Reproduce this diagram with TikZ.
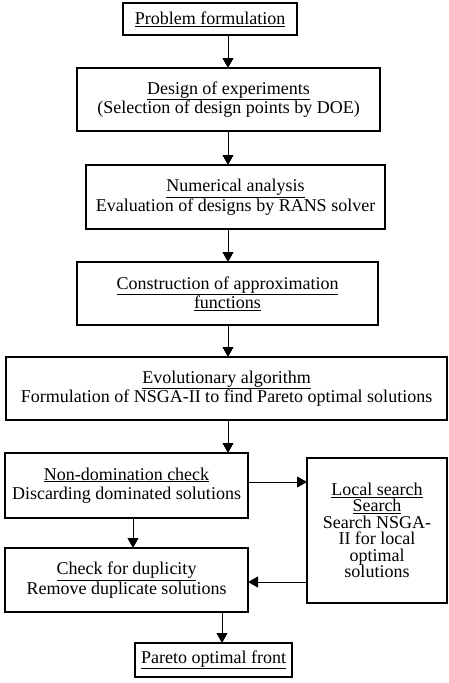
\documentclass[tikz,border=0pt]{standalone}
\usepackage{fontspec}
\setmainfont{Liberation Serif}
\usetikzlibrary{arrows.meta,positioning}

\begin{document}
\begin{tikzpicture}[
    x=1pt, y=-1pt,
    box/.style={rectangle, draw, line width=1.1pt, align=center, inner sep=0pt, outer sep=0pt, font=\fontsize{18}{19.5}\selectfont},
    link/.style={-{Triangle[length=10pt,width=11pt]}, line width=0.9pt}
]
    \useasboundingbox (0,0) rectangle (448,683);

    % Main chain of steps
    \node[box, minimum width=174pt, minimum height=32pt] (prob) at (210,19) {\underline{Problem formulation}};
    \node[box, minimum width=303pt, minimum height=63pt, below=33pt of prob, xshift=18.5pt] (design) {\underline{Design of experiments}\\(Selection of design points by DOE)};
    \node[box, minimum width=299pt, minimum height=64pt, below=34pt of design, xshift=7pt] (numer) {\underline{Numerical analysis}\\Evaluation of designs by RANS solver};
    \node[box, minimum width=301pt, minimum height=63pt, below=33pt of numer, xshift=-8pt] (constr) {\underline{Construction of approximation}\\\underline{functions}};
    \node[box, minimum width=441pt, minimum height=63pt, below=32pt of constr, xshift=-1pt] (evol) {\underline{Evolutionary algorithm}\\Formulation of NSGA-II to find Pareto optimal solutions};
    \node[box, minimum width=243pt, minimum height=65pt, below=33pt of evol, xshift=-100pt] (nondom) {\underline{Non-domination check}\\Discarding dominated solutions};
    \node[box, minimum width=243pt, minimum height=64pt, below=30pt of nondom] (check) {\underline{Check for duplicity}\\Remove duplicate solutions};
    \node[box, minimum width=157pt, minimum height=34pt, below=31pt of check, xshift=87pt] (pareto) {\underline{Pareto optimal front}};

    % Side box
    \node[box, minimum width=140pt, minimum height=145pt, anchor=north west, font=\fontsize{18}{16.5}\selectfont] (local) at ([xshift=59pt, yshift=-5pt]nondom.north east) {\underline{Local search}\\\underline{Search}\\Search NSGA-\\II for local\\optimal\\solutions};

    % Connectors
    \coordinate (spine) at (228,0);
    \draw[link] (prob.south -| spine) -- (design.north -| spine);
    \draw[link] (design.south -| spine) -- (numer.north -| spine);
    \draw[link] (numer.south -| spine) -- (constr.north -| spine);
    \draw[link] (constr.south -| spine) -- (evol.north -| spine);
    \draw[link] (evol.south -| spine) -- (nondom.north -| spine);
    \draw[link] ([xshift=6.5pt]nondom.south) -- ([xshift=6.5pt]check.north);
    \draw[link] ([yshift=3.5pt]nondom.east) -- ([yshift=3.5pt]nondom.east -| local.west);
    \draw[link] ([yshift=-2pt]check.east -| local.west) -- ([yshift=-2pt]check.east);
    \coordinate (tip) at ([xshift=8.5pt]pareto.north);
    \draw[link] (check.south -| tip) -- (tip);
\end{tikzpicture}
\end{document}
